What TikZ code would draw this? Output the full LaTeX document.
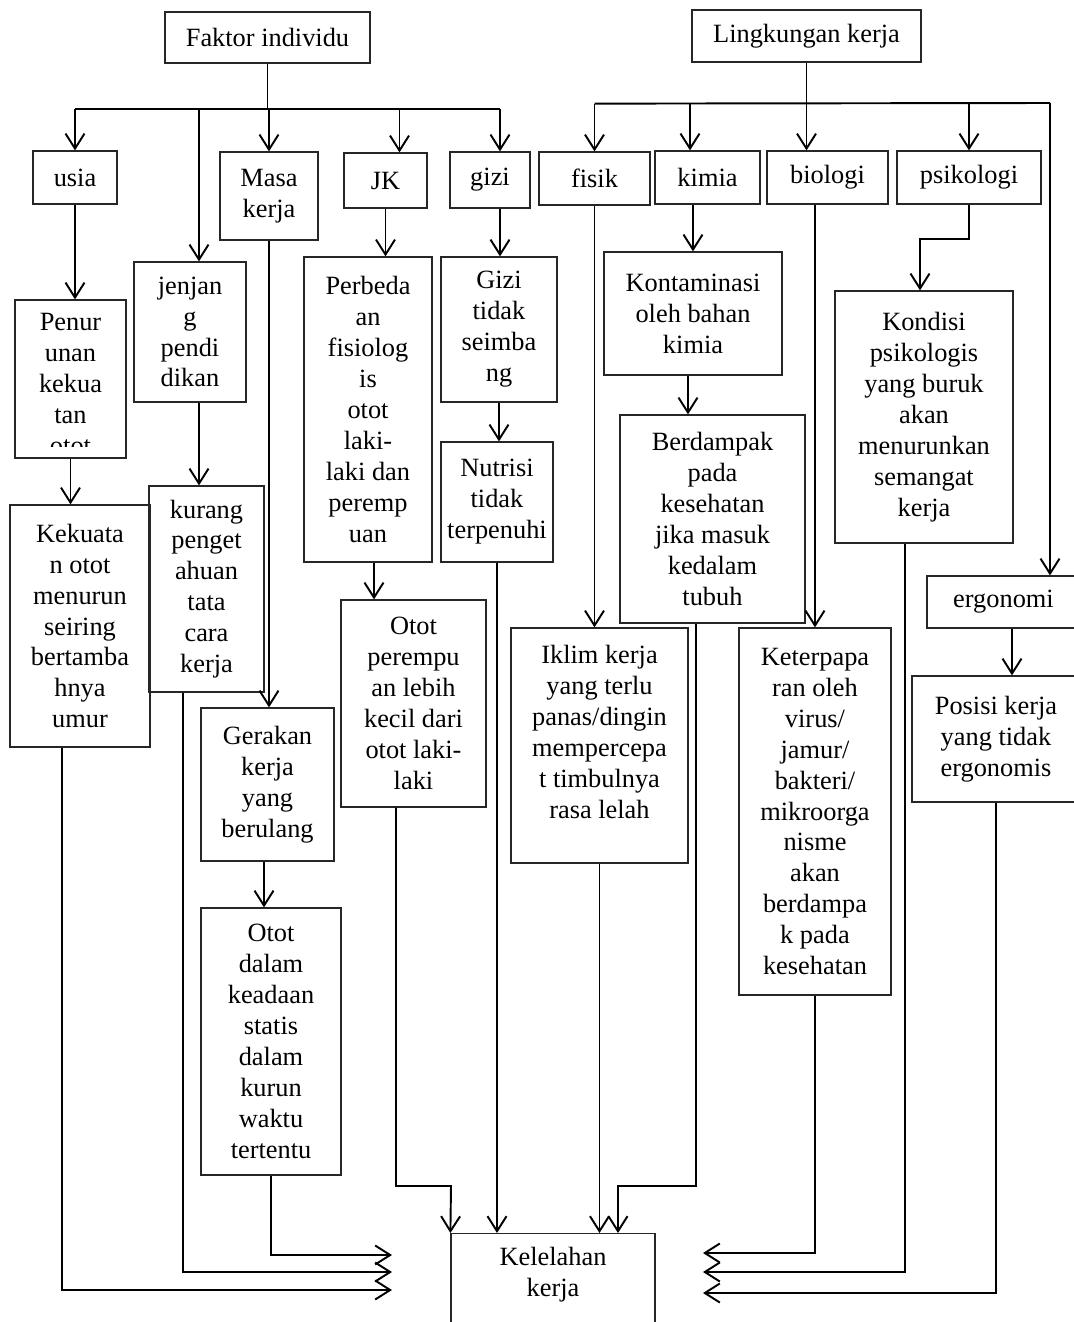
\documentclass[tikz,border=0pt]{standalone}
\usepackage{fontspec}
\setmainfont{Liberation Serif}
\usetikzlibrary{calc,arrows.meta}
\tikzset{
  kotak/.style={draw=black!85,line width=0.7pt,align=center,inner sep=2pt,font=\fontsize{15}{17.6}\selectfont},
  panah/.style={-{Straight Barb[length=3mm,width=3.8mm]},line width=1.1pt},
  garis/.style={line width=1.1pt}
}

\begin{document}
\begin{tikzpicture}
\useasboundingbox (0,0) rectangle (21.48,-26.44);
% kepala
\node[kotak,minimum width=4.10cm,minimum height=1.02cm] (faktor) at (5.35,-0.75) {Faktor individu};
\node[kotak,minimum width=4.58cm,minimum height=1.04cm] (lingkungan) at (16.13,-0.72) {Lingkungan kerja};
% baris kedua
\node[kotak,minimum width=1.68cm,minimum height=1.06cm] (usia) at (1.50,-3.55) {usia};
\node[kotak,minimum width=1.96cm,minimum height=1.76cm] (masa) at (5.38,-3.92) {Masa\\kerja};
\node[kotak,minimum width=1.66cm,minimum height=1.10cm] (jk) at (7.71,-3.61) {JK};
\node[kotak,minimum width=1.60cm,minimum height=1.12cm] (gizi) at (9.80,-3.60) {gizi};
\node[kotak,minimum width=2.22cm,minimum height=1.06cm] (fisik) at (11.89,-3.57) {fisik};
\node[kotak,minimum width=2.10cm,minimum height=1.06cm] (kimia) at (14.15,-3.55) {kimia};
\node[kotak,minimum width=2.42cm,minimum height=1.06cm] (biologi) at (16.55,-3.55) {biologi};
\node[kotak,minimum width=2.88cm,minimum height=1.06cm] (psiko) at (19.38,-3.55) {psikologi};
% baris ketiga
\node[kotak,minimum width=2.22cm,minimum height=3.16cm] (penurunan) at (1.41,-7.58) {};
\begin{scope}
\clip ($(penurunan.north west)+(0,-0.05)$) rectangle ($(penurunan.south east)+(0,0.24)$);
\node[kotak,draw=none,anchor=north] (penurunanteks) at ($(penurunan.north)+(0,-0.2)$) {Penur\\unan\\kekua\\tan\\otot};
\end{scope}
\node[kotak,minimum width=2.24cm,minimum height=2.80cm] (jenjang) at (3.80,-6.64) {jenjan\\g\\pendi\\dikan};
\node[kotak,minimum width=2.56cm,minimum height=6.10cm] (perbedaan) at (7.36,-8.19) {Perbeda\\an\\fisiolog\\is\\otot\\laki-\\laki dan\\peremp\\uan};
\node[kotak,minimum width=2.32cm,minimum height=2.90cm] (gizikurang) at (9.98,-6.59) {Gizi\\tidak\\seimba\\ng};
\node[kotak,minimum width=3.56cm,minimum height=2.46cm] (kontaminasi) at (13.86,-6.27) {Kontaminasi\\oleh bahan\\kimia};
\node[kotak,minimum width=3.56cm,minimum height=5.04cm] (kondisi) at (18.48,-8.34) {Kondisi\\psikologis\\yang buruk\\akan\\menurunkan\\semangat\\kerja};
% baris keempat
\node[kotak,minimum width=2.80cm,minimum height=4.84cm] (kekuatan) at (1.60,-12.52) {Kekuata\\n otot\\menurun\\seiring\\bertamba\\hnya\\umur};
\node[kotak,minimum width=2.30cm,minimum height=4.12cm] (kurang) at (4.13,-11.78) {kurang\\penget\\ahuan\\tata\\cara\\kerja};
\node[kotak,minimum width=2.24cm,minimum height=2.40cm] (nutrisi) at (9.94,-10.04) {Nutrisi\\tidak\\terpenuhi};
\node[kotak,minimum width=3.70cm,minimum height=4.16cm] (berdampak) at (14.25,-10.38) {Berdampak\\pada\\kesehatan\\jika masuk\\kedalam\\tubuh};
\node[kotak,minimum width=3.06cm,minimum height=1.04cm] (ergonomi) at (20.07,-12.04) {ergonomi};
\node[kotak,minimum width=3.36cm,minimum height=2.52cm] (posisi) at (19.92,-14.78) {Posisi kerja\\yang tidak\\ergonomis};
\node[kotak,minimum width=2.90cm,minimum height=4.14cm] (ototcewek) at (8.27,-14.07) {Otot\\perempu\\an lebih\\kecil dari\\otot laki-\\laki};
\node[kotak,minimum width=3.54cm,minimum height=4.70cm,text depth=0.55cm] (iklim) at (11.99,-14.91) {Iklim kerja\\yang terlu\\panas/dingin\\mempercepa\\t timbulnya\\rasa lelah};
\node[kotak,minimum width=3.04cm,minimum height=7.34cm] (paparan) at (16.30,-16.23) {Keterpapa\\ran oleh\\virus/\\jamur/\\bakteri/\\mikroorga\\nisme\\akan\\berdampa\\k pada\\kesehatan};
\node[kotak,minimum width=2.66cm,minimum height=3.06cm] (gerakan) at (5.35,-15.69) {Gerakan\\kerja\\yang\\berulang};
\node[kotak,minimum width=2.80cm,minimum height=5.34cm] (statis) at (5.42,-20.83) {Otot\\dalam\\keadaan\\statis\\dalam\\kurun\\waktu\\tertentu};
\node[kotak,minimum width=4.08cm,minimum height=2.04cm,text depth=0.5cm,anchor=north] (kelelahan) at (11.06,-24.66) {Kelelahan\\kerja};
% cabang faktor individu
\coordinate (busF) at ($(faktor.south)+(0,-0.90)$);
\draw[garis] (faktor.south) -- (busF);
\draw[garis] (usia.north |- busF) -- ($(gizi.north |- busF)+(0.2,0)$);
\draw[panah] (usia.north |- busF) -- (usia.north);
\draw[panah] ($(jenjang.north |- busF)+(0.18,0)$) -- ($(jenjang.north)+(0.18,0)$);
\draw[panah] (masa.north |- busF) -- (masa.north);
\draw[panah] ($(jk.north |- busF)+(0.28,0)$) -- ($(jk.north)+(0.28,0)$);
\draw[panah] ($(gizi.north |- busF)+(0.2,0)$) -- ($(gizi.north)+(0.2,0)$);
% cabang lingkungan kerja
\coordinate (busL) at ($(lingkungan.south)+(0,-0.82)$);
\coordinate (sudut) at (21.0,-2.06);
\draw[garis] (lingkungan.south) -- (busL);
\draw[garis] (fisik.north |- busL) -- (sudut);
\draw[panah] (fisik.north |- busL) -- (fisik.north);
\draw[panah] ($(kimia.north |- busL)+(-0.35,0)$) -- ($(kimia.north)+(-0.35,0)$);
\draw[panah] (busL) -- (busL |- biologi.north);
\draw[panah] (psiko.north |- busL) -- (psiko.north);
\draw[panah] (sudut) -- (sudut |- ergonomi.north);
% turunan
\draw[panah] (usia.south) -- (usia.south |- penurunan.north);
\draw[panah] (penurunan.south) -- (penurunan.south |- kekuatan.north);
\draw[panah] ($(jenjang.south)+(0.18,0)$) -- ($(jenjang.south |- kurang.north)+(0.18,0)$);
\draw[panah] (masa.south) -- (masa.south |- gerakan.north);
\draw[panah] ($(gerakan.south)+(-0.07,0)$) -- ($(gerakan.south |- statis.north)+(-0.07,0)$);
\draw[panah] (jk.south) -- (jk.south |- perbedaan.north);
\draw[panah] ($(perbedaan.south)+(0.12,0)$) -- ($(perbedaan.south |- ototcewek.north)+(0.12,0)$);
\draw[panah] ($(gizi.south)+(0.2,0)$) -- ($(gizi.south |- gizikurang.north)+(0.2,0)$);
\draw[panah] (gizikurang.south) -- (gizikurang.south |- nutrisi.north);
\draw[panah] (fisik.south) -- (fisik.south |- iklim.north);
\draw[panah] (kontaminasi.north |- kimia.south) -- (kontaminasi.north);
\draw[panah] ($(kontaminasi.south)+(-0.1,0)$) -- ($(kontaminasi.south |- berdampak.north)+(-0.1,0)$);
\draw[panah] (paparan.north |- biologi.south) -- (paparan.north);
\draw[panah] (psiko.south) -- ++(0,-0.68) -| ($(kondisi.north)+(-0.08,0)$);
\draw[panah] ($(ergonomi.south)+(0.17,0)$) -- ($(ergonomi.south |- posisi.north)+(0.17,0)$);
% menuju kelelahan kerja
\coordinate (kiriA) at (7.84,-25.10);
\coordinate (kiriB) at (7.84,-25.44);
\coordinate (kiriC) at (7.84,-25.80);
\coordinate (kananA) at (14.06,-25.06);
\coordinate (kananB) at (14.06,-25.44);
\coordinate (kananC) at (14.06,-25.86);
\coordinate (belokKiri) at (9.02,-23.72);
\coordinate (belokKanan) at (12.36,-23.72);
\draw[panah] (statis.south) |- (kiriA);
\draw[panah] ($(kurang.south)+(-0.47,0)$) |- (kiriB);
\draw[panah] ($(kekuatan.south)+(-0.36,0)$) |- (kiriC);
\draw[panah] ($(ototcewek.south)+(-0.35,0)$) |- (belokKiri) -- (kelelahan.north west);
\draw[panah] (nutrisi.south) -- (nutrisi.south |- kelelahan.north);
\draw[panah] (iklim.south) -- (iklim.south |- kelelahan.north);
\draw[panah] ($(berdampak.south)+(-0.33,0)$) |- (belokKanan) -- (belokKanan |- kelelahan.north);
\draw[panah] (paparan.south) |- (kananA);
\draw[panah] ($(kondisi.south)+(-0.38,0)$) |- (kananB);
\draw[panah] (posisi.south) |- (kananC);
\end{tikzpicture}
\end{document}
